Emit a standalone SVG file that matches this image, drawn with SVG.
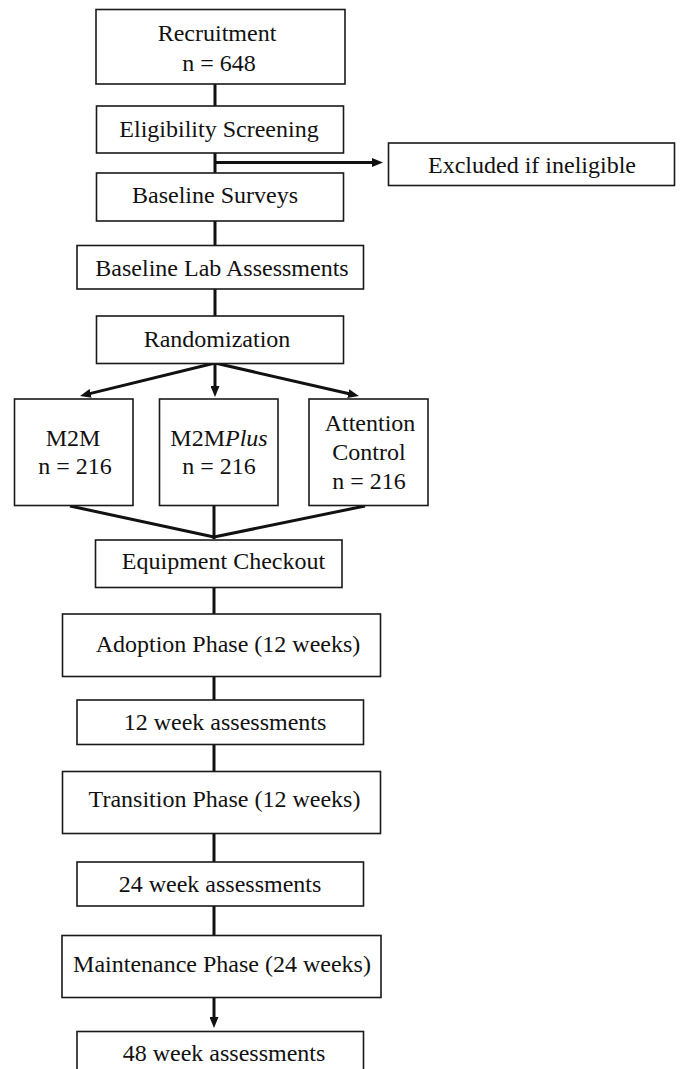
<svg xmlns="http://www.w3.org/2000/svg" width="682" height="1069" viewBox="0 0 682 1069">
<style>
.box{fill:#fff;stroke:#1a1a1a;stroke-width:1.6}
.t{font-family:"Liberation Serif","Times New Roman",serif;font-size:24px;fill:#111;text-anchor:middle}
.c{stroke:#111;stroke-width:3;fill:none}
</style>
<defs>
<marker id="ah" markerWidth="12" markerHeight="9" refX="1" refY="4.5" orient="auto" markerUnits="userSpaceOnUse">
<path d="M0,0 L11,4.5 L0,9 Z" fill="#111"/>
</marker>
</defs>
<rect width="682" height="1069" fill="#fff"/>
<g id="connectors">
<line class="c" x1="215" y1="84" x2="215" y2="106"/>
<line class="c" x1="215" y1="153" x2="215" y2="173"/>
<line class="c" x1="216" y1="162.5" x2="373" y2="162.5" marker-end="url(#ah)"/>
<line class="c" x1="215" y1="221" x2="215" y2="245"/>
<line class="c" x1="215" y1="289" x2="215" y2="316"/>
<line class="c" x1="215" y1="363" x2="89.7" y2="393.6" marker-end="url(#ah)"/>
<line class="c" x1="215" y1="363" x2="215" y2="387" marker-end="url(#ah)"/>
<line class="c" x1="215" y1="363" x2="349.2" y2="393.8" marker-end="url(#ah)"/>
<line class="c" x1="70" y1="506" x2="214" y2="537"/>
<line class="c" x1="214" y1="506" x2="214" y2="539"/>
<line class="c" x1="365" y1="506" x2="214" y2="537"/>
<line class="c" x1="214" y1="587" x2="214" y2="614"/>
<line class="c" x1="214" y1="677" x2="214" y2="700"/>
<line class="c" x1="214" y1="744" x2="214" y2="771"/>
<line class="c" x1="214" y1="833" x2="214" y2="862"/>
<line class="c" x1="214" y1="906" x2="214" y2="935"/>
<line class="c" x1="214" y1="997" x2="214" y2="1018" marker-end="url(#ah)"/>
</g>
<g id="recruitment"><rect class="box" x="96" y="9.5" width="249" height="74.5"/><text class="t" x="217" y="41">Recruitment</text><text class="t" x="219" y="71">n = 648</text></g>
<g id="eligibility"><rect class="box" x="96.5" y="106" width="247" height="47"/><text class="t" x="219" y="136.5">Eligibility Screening</text></g>
<g id="excluded"><rect class="box" x="388.5" y="143" width="286" height="42.5"/><text class="t" x="532" y="173">Excluded if ineligible</text></g>
<g id="baseline-surveys"><rect class="box" x="96.5" y="173" width="247" height="48"/><text class="t" x="215" y="203">Baseline Surveys</text></g>
<g id="baseline-lab"><rect class="box" x="77" y="245.5" width="286.5" height="43.5"/><text class="t" x="222" y="276">Baseline Lab Assessments</text></g>
<g id="randomization"><rect class="box" x="96.5" y="316" width="247" height="47.5"/><text class="t" x="217" y="347">Randomization</text></g>
<g id="m2m"><rect class="box" x="14.5" y="399" width="118.5" height="106.5"/><text class="t" x="73" y="445.5">M2M</text><text class="t" x="75" y="474">n = 216</text></g>
<g id="m2mplus"><rect class="box" x="159.5" y="399" width="118.5" height="106.5"/><text class="t" x="219" y="445.5">M2M<tspan font-style="italic">Plus</tspan></text><text class="t" x="219" y="474">n = 216</text></g>
<g id="attention"><rect class="box" x="309" y="399" width="119" height="106.5"/><text class="t" x="370" y="431">Attention</text><text class="t" x="369" y="460">Control</text><text class="t" x="369" y="489">n = 216</text></g>
<g id="equipment"><rect class="box" x="95.5" y="540" width="246.5" height="47.5"/><text class="t" x="223.5" y="569">Equipment Checkout</text></g>
<g id="adoption"><rect class="box" x="62.5" y="614" width="318" height="62.5"/><text class="t" x="228" y="651.5">Adoption Phase (12 weeks)</text></g>
<g id="week12"><rect class="box" x="77" y="700" width="286.5" height="44.5"/><text class="t" x="225" y="730">12 week assessments</text></g>
<g id="transition"><rect class="box" x="62.5" y="771.5" width="318" height="62"/><text class="t" x="224.5" y="807">Transition Phase (12 weeks)</text></g>
<g id="week24"><rect class="box" x="77" y="862" width="286.5" height="44"/><text class="t" x="220" y="892">24 week assessments</text></g>
<g id="maintenance"><rect class="box" x="62" y="935.5" width="319" height="62"/><text class="t" x="222" y="971.5">Maintenance Phase (24 weeks)</text></g>
<g id="week48"><rect class="box" x="77" y="1031.5" width="286.5" height="45"/><text class="t" x="224" y="1061">48 week assessments</text></g>
</svg>
